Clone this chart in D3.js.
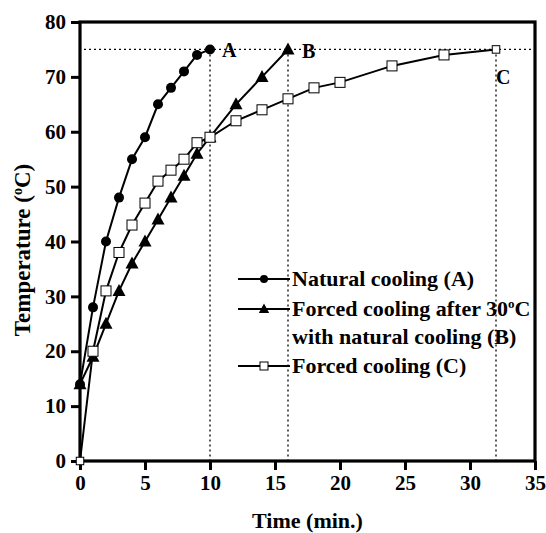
<!DOCTYPE html>
<html>
<head>
<meta charset="utf-8">
<script src="https://cdn.jsdelivr.net/npm/d3@7/dist/d3.min.js"></script>
<style>
  html, body { margin: 0; padding: 0; background: #fff; }
  svg { display: block; font-family: "Liberation Serif", "Times New Roman", serif; font-weight: bold; }
</style>
</head>
<body>
<div id="chart"></div>
<script>
// time (min) and temperature (oC)
const naturalTime = [0, 1, 2, 3, 4, 5, 6, 7, 8, 9, 10]
const naturalTemp = [14, 28, 40, 48, 55, 59, 65, 68, 71, 74, 75]

const forcedAfterTime = [0, 1, 2, 3, 4, 5, 6, 7, 8, 9, 10, 12, 14, 16]
const forcedAfterTemp = [14, 19, 25, 31, 36, 40, 44, 48, 52, 56, 59, 65, 70, 75]

const forcedTime = [0, 1, 2, 3, 4, 5, 6, 7, 8, 9, 10, 12, 14, 16, 18, 20, 24, 28, 32]
const forcedTemp = [0, 20, 31, 38, 43, 47, 51, 53, 55, 58, 59, 62, 64, 66, 68, 69, 72, 74, 75]

const xTicks = [0, 5, 10, 15, 20, 25, 30, 35]
const yTicks = [0, 10, 20, 30, 40, 50, 60, 70, 80]

// end points marked with dotted guides
const endTimes = [10, 16, 32]
const endLabels = ["A", "B", "C"]
const endTemp = 75

const width = 546, height = 533
const margin = { top: 22, right: 11, bottom: 72, left: 80 }

const svg = d3.select("#chart").append("svg")
  .attr("width", width)
  .attr("height", height)

const x = d3.scaleLinear().domain([0, 35]).range([margin.left, width - margin.right])
const y = d3.scaleLinear().domain([0, 80]).range([height - margin.bottom, margin.top])

// Dotted guides at 75 oC and at each end time
const guides = svg.append("g")
  .attr("stroke", "#000")
  .attr("stroke-width", 1.3)
  .attr("stroke-dasharray", "2,3")
guides.append("line")
  .attr("x1", x(0) + 4).attr("x2", x(35))
  .attr("y1", y(endTemp)).attr("y2", y(endTemp))
guides.selectAll("line.v")
  .data(endTimes)
  .join("line")
  .attr("class", "v")
  .attr("x1", d => x(d)).attr("x2", d => x(d))
  .attr("y1", y(endTemp)).attr("y2", y(0))

// Axes
const xAxis = d3.axisBottom(x).tickValues(xTicks).tickSize(9).tickPadding(5)
const yAxis = d3.axisLeft(y).tickValues(yTicks).tickSize(9).tickPadding(5)

const gx = svg.append("g")
  .attr("transform", `translate(0,${y(0)})`)
  .call(xAxis)
const gy = svg.append("g")
  .attr("transform", `translate(${x(0)},0)`)
  .call(yAxis)

;[gx, gy].forEach(g => {
  g.select(".domain").remove()
  g.selectAll(".tick line").attr("stroke", "#000").attr("stroke-width", 3)
  g.selectAll(".tick text")
    .attr("fill", "#000")
    .attr("font-size", 21)
    .attr("font-family", "Liberation Serif, Times New Roman, serif")
    .attr("font-weight", "bold")
})

// Frame
svg.append("rect")
  .attr("x", x(0)).attr("y", y(80))
  .attr("width", x(35) - x(0))
  .attr("height", y(0) - y(80))
  .attr("fill", "none")
  .attr("stroke", "#000")
  .attr("stroke-width", 3.2)

// Series
const series = [
  { name: "natural", xs: naturalTime, ys: naturalTemp, shape: "circle" },
  { name: "forcedAfter", xs: forcedAfterTime, ys: forcedAfterTemp, shape: "triangle" },
  { name: "forced", xs: forcedTime, ys: forcedTemp, shape: "square" }
]

const line = d3.line().x(d => x(d[0])).y(d => y(d[1]))

function drawMarker(sel, shape, k) {
  k = k || 1
  if (shape === "circle") {
    sel.append("circle").attr("r", 5 * k).attr("fill", "#000")
  } else if (shape === "triangle") {
    sel.append("path")
      .attr("d", `M0,${-7 * k}L${6.5 * k},${5 * k}L${-6.5 * k},${5 * k}Z`)
      .attr("fill", "#000")
  } else {
    const h = 5 * k
    sel.append("rect")
      .attr("x", -h).attr("y", -h)
      .attr("width", 2 * h).attr("height", 2 * h)
      .attr("fill", "#fff")
      .attr("stroke", "#000")
      .attr("stroke-width", 1)
  }
}

series.forEach(s => {
  const pts = s.xs.map((t, i) => [t, s.ys[i]])
  svg.append("path")
    .datum(pts)
    .attr("d", line)
    .attr("fill", "none")
    .attr("stroke", "#000")
    .attr("stroke-width", 2)
})
series.forEach(s => {
  const pts = s.xs.map((t, i) => [t, s.ys[i]])
  const m = svg.append("g")
    .selectAll("g")
    .data(pts)
    .join("g")
    .attr("transform", d => `translate(${x(d[0])},${y(d[1])})`)
  // the first/last squares sit on the axis and guide, drawn smaller
  m.each(function (d, i) {
    const small = s.shape === "square" && (i === 0 || i === pts.length - 1)
    drawMarker(d3.select(this), s.shape, small ? 0.75 : 1)
  })
})

// End labels A, B, C
const labelOffsets = [[12, 8], [14, 9], [0, 35]]
svg.append("g")
  .selectAll("text")
  .data(endLabels)
  .join("text")
  .attr("x", (d, i) => x(endTimes[i]) + labelOffsets[i][0])
  .attr("y", (d, i) => y(endTemp) + labelOffsets[i][1])
  .attr("font-size", 20)
  .text(d => d)

// Legend
const legendRows = [
  { shape: "circle", lines: ["Natural cooling (A)"] },
  { shape: "triangle", lines: ["Forced cooling after 30", "with natural cooling (B)"] },
  { shape: "square", lines: ["Forced cooling (C)"] }
]
const legendX = 238, legendY = [279, 309, 366]
legendRows.forEach((r, i) => {
  const g = svg.append("g").attr("transform", `translate(${legendX},${legendY[i]})`)
  g.append("line").attr("x1", 0).attr("x2", 52).attr("y1", 0).attr("y2", 0)
    .attr("stroke", "#000").attr("stroke-width", 2)
  drawMarker(g.append("g").attr("transform", "translate(26,0)"), r.shape, 0.8)
  r.lines.forEach((t, j) => {
    const txt = g.append("text")
      .attr("x", 54)
      .attr("y", 7 + j * 28)
      .attr("font-size", 22)
    txt.append("tspan").text(t)
    if (i === 1 && j === 0) {
      txt.append("tspan").attr("dy", -8).attr("font-size", 13).text("o")
      txt.append("tspan").attr("dy", 8).text("C")
    }
  })
})

// Axis titles
svg.append("text")
  .attr("x", (x(0) + x(35)) / 2)
  .attr("y", 528)
  .attr("text-anchor", "middle")
  .attr("font-size", 22)
  .text("Time (min.)")

const yt = svg.append("text")
  .attr("transform", `translate(30,250) rotate(-90)`)
  .attr("text-anchor", "middle")
  .attr("font-size", 23)
yt.append("tspan").text("Temperature (")
yt.append("tspan").attr("dy", -8).attr("font-size", 14).text("o")
yt.append("tspan").attr("dy", 8).text("C)")
</script>
</body>
</html>
